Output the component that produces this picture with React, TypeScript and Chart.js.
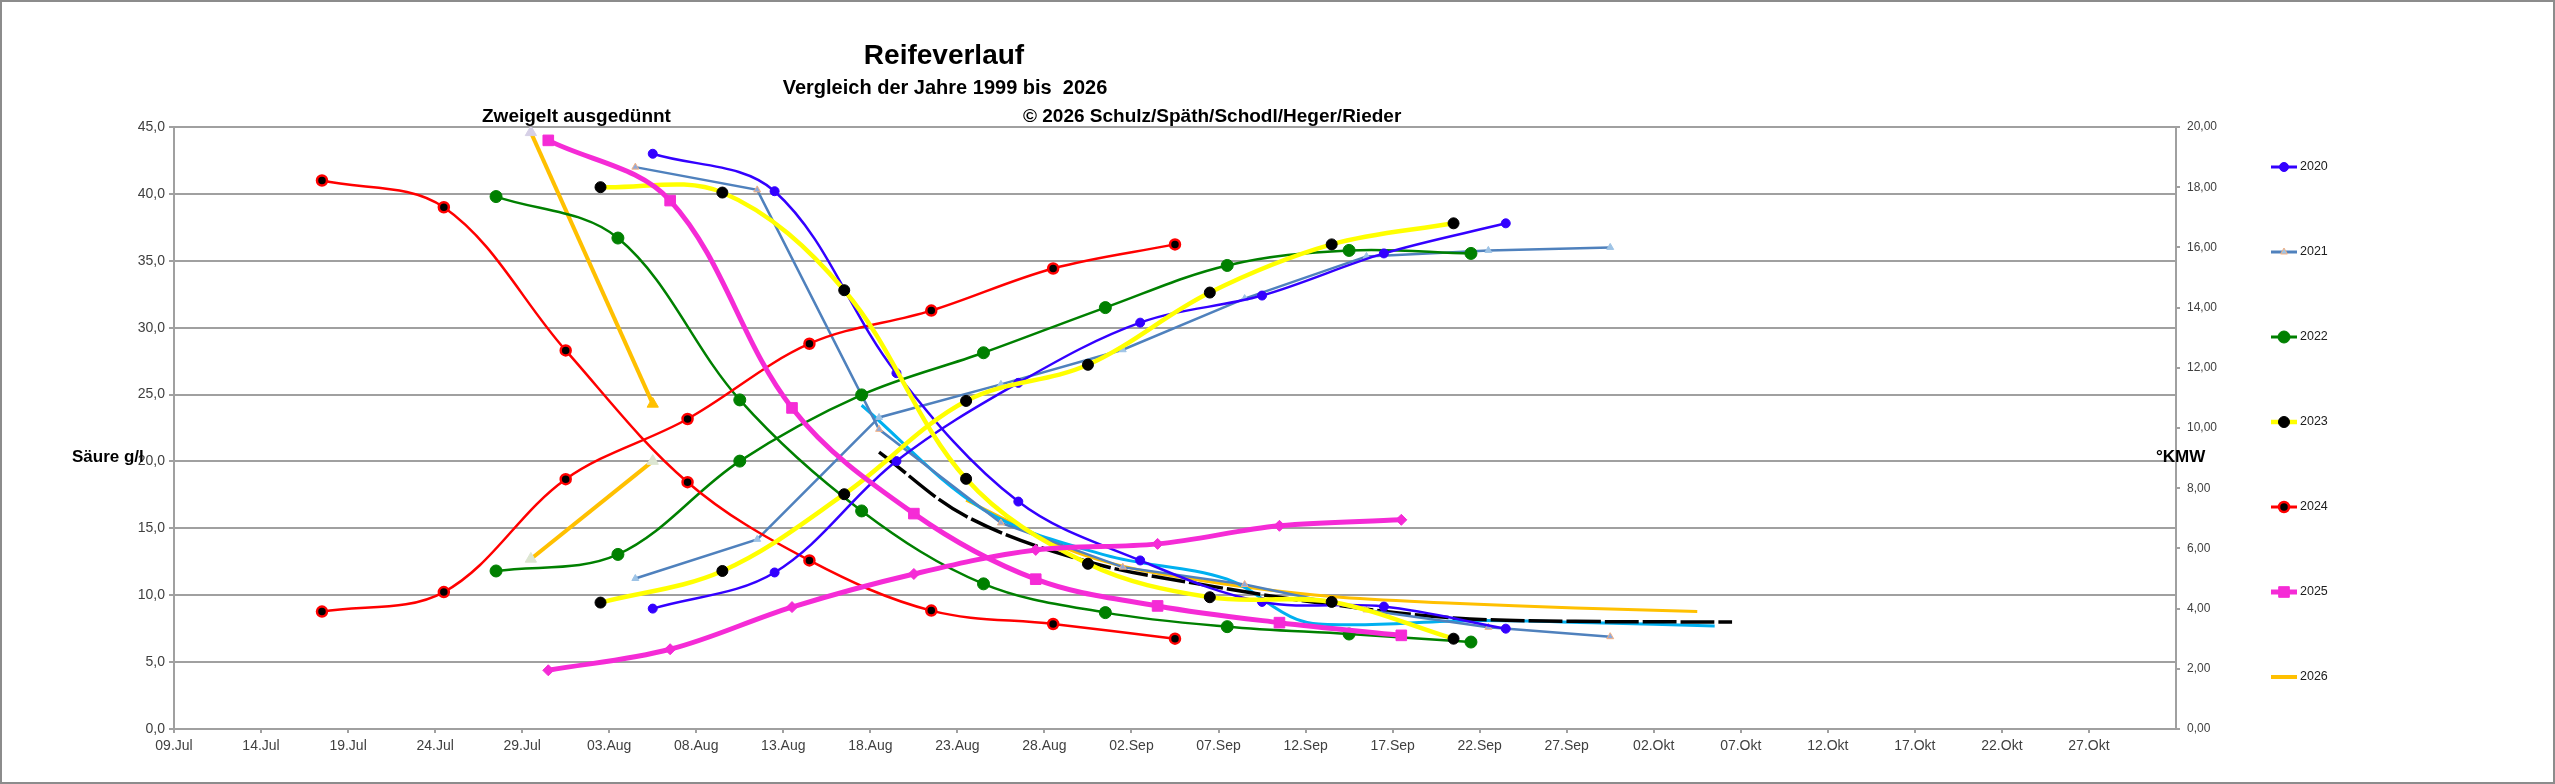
import React, { useEffect, useRef } from "react";
import { Chart, registerables } from "chart.js";

Chart.register(...registerables);

const FONT = '"Liberation Sans", Arial, "DejaVu Sans", sans-serif';

// ---------- texts ----------
const TITLE = "Reifeverlauf";
const SUBTITLE = "Vergleich der Jahre 1999 bis  2026";
const COPYRIGHT = "© 2026 Schulz/Späth/Schodl/Heger/Rieder";
const NOTE = "Zweigelt ausgedünnt";
const LEFT_TITLE = "Säure g/l";
const RIGHT_TITLE = "°KMW";

// ---------- axis tick labels ----------
const xTickLabels = [
  "09.Jul", "14.Jul", "19.Jul", "24.Jul", "29.Jul", "03.Aug", "08.Aug", "13.Aug",
  "18.Aug", "23.Aug", "28.Aug", "02.Sep", "07.Sep", "12.Sep", "17.Sep", "22.Sep",
  "27.Sep", "02.Okt", "07.Okt", "12.Okt", "17.Okt", "22.Okt", "27.Okt",
];

// ---------- data (dates dd.mm, acid g/l, sugar °KMW) ----------
const dates2020 = ["05.08", "12.08", "19.08", "26.08", "02.09", "09.09", "16.09", "23.09"];
const acid2020 = [43.0, 40.2, 26.6, 17.0, 12.6, 9.5, 9.15, 7.5];
const kmw2020 = [4.0, 5.2, 8.9, 11.5, 13.5, 14.4, 15.8, 16.8];

const dates2021 = ["04.08", "11.08", "18.08", "25.08", "01.09", "08.09", "15.09", "22.09", "29.09"];
const acid2021 = [42.0, 40.3, 22.4, 15.4, 12.1, 10.8, 8.9, 7.6, 6.9];
const kmw2021 = [5.0, 6.3, 10.35, 11.45, 12.6, 14.3, 15.7, 15.9, 16.0];

const dates2022 = ["27.07", "03.08", "10.08", "17.08", "24.08", "31.08", "07.09", "14.09", "21.09"];
const acid2022 = [39.8, 36.7, 24.6, 16.3, 10.85, 8.7, 7.65, 7.1, 6.5];
const kmw2022 = [5.25, 5.8, 8.9, 11.1, 12.5, 14.0, 15.4, 15.9, 15.8];

const dates2023 = ["02.08", "09.08", "16.08", "23.08", "30.08", "06.09", "13.09", "20.09"];
const acid2023 = [40.5, 40.1, 32.8, 18.7, 12.35, 9.85, 9.5, 6.75];
const kmw2023 = [4.2, 5.25, 7.8, 10.9, 12.1, 14.5, 16.1, 16.8];

const dates2024 = ["17.07", "24.07", "31.07", "07.08", "14.08", "21.08", "28.08", "04.09"];
const acid2024 = [41.0, 39.0, 28.3, 18.45, 12.6, 8.85, 7.85, 6.75];
const kmw2024 = [3.9, 4.55, 8.3, 10.3, 12.8, 13.9, 15.3, 16.1];

const dates2025 = ["30.07", "06.08", "13.08", "20.08", "27.08", "03.09", "10.09", "17.09"];
const acid2025 = [44.0, 39.5, 24.0, 16.1, 11.2, 9.2, 7.95, 7.0];
const kmw2025 = [1.95, 2.65, 4.05, 5.15, 5.95, 6.15, 6.75, 6.95];

const dates2026 = ["29.07", "05.08"];
const acid2026 = [44.6, 24.3];
const kmw2026 = [5.65, 8.9];

// long-term acid curves (no markers)
const datesMeanA = ["18.08", "23.08", "30.08", "06.09", "13.09", "20.09", "27.09", "06.10"];
const acidMeanA = [20.7, 15.9, 12.5, 10.7, 9.3, 8.3, 8.05, 8.0];

const datesMeanB = ["17.08", "24.08", "31.08", "07.09", "11.09", "14.09", "21.09", "28.09", "05.10"];
const acidMeanB = [24.2, 16.4, 13.0, 11.2, 8.2, 7.8, 8.1, 7.95, 7.7];

const datesMeanC = ["23.08", "30.08", "06.09", "13.09", "20.09", "27.09", "04.10"];
const acidMeanC = [17.1, 12.9, 11.0, 9.9, 9.4, 9.05, 8.78];

const legendYears = ["2020", "2021", "2022", "2023", "2024", "2025", "2026"];

// ---------- helpers ----------
function dayIndex(d: string): number {
  const [dd, mm] = d.split(".").map(Number);
  const monthOffset: Record<number, number> = { 7: -9, 8: 22, 9: 53, 10: 83, 11: 114 };
  return monthOffset[mm] + dd;
}
function toXY(dates: string[], vals: number[]) {
  return dates.map((d, i) => ({ x: dayIndex(d), y: vals[i] }));
}

type Sty = {
  color: string;
  width: number;
  point: string | false;
  r: number;
  fill: string;
  stroke: string;
  pw: number;
  tension: number;
};

const STY: Record<string, Sty> = {
  "2020": { color: "#3300FF", width: 2.5, point: "circle", r: 4.5, fill: "#3300FF", stroke: "#3300FF", pw: 1, tension: 0.35 },
  "2021": { color: "#4F81BD", width: 2.5, point: "triangle", r: 4, fill: "#9DC3E6", stroke: "#F4B183", pw: 1, tension: 0 },
  "2022": { color: "#008000", width: 2.5, point: "circle", r: 6, fill: "#008000", stroke: "#008000", pw: 1, tension: 0.35 },
  "2023": { color: "#FFFF00", width: 4.5, point: "circle", r: 5.5, fill: "#000000", stroke: "#000000", pw: 1, tension: 0.35 },
  "2024": { color: "#FF0000", width: 2.5, point: "circle", r: 5, fill: "#000000", stroke: "#FF0000", pw: 2.5, tension: 0.35 },
  "2025": { color: "#F52BD6", width: 5, point: "rect", r: 7.5, fill: "#F52BD6", stroke: "#F52BD6", pw: 1, tension: 0.35 },
  "2026": { color: "#FFC000", width: 4, point: false, r: 0, fill: "#FFC000", stroke: "#FFC000", pw: 1, tension: 0 },
};

function series(label: string, data: any[], axis: string, s: Sty, extra: any = {}) {
  return {
    label,
    data,
    yAxisID: axis,
    borderColor: s.color,
    backgroundColor: s.color,
    borderWidth: s.width,
    tension: s.tension,
    pointStyle: s.point || "circle",
    pointRadius: s.point ? s.r : 0,
    pointBackgroundColor: s.fill,
    pointBorderColor: s.stroke,
    pointBorderWidth: s.pw,
    pointHoverRadius: s.point ? s.r : 0,
    fill: false,
    ...extra,
  };
}

function drawMarker(ctx: CanvasRenderingContext2D, s: Sty, x: number, y: number) {
  if (!s.point) return;
  ctx.save();
  ctx.fillStyle = s.fill;
  ctx.strokeStyle = s.stroke;
  ctx.lineWidth = s.pw;
  ctx.beginPath();
  if (s.point === "circle") {
    ctx.arc(x, y, s.r, 0, Math.PI * 2);
  } else if (s.point === "triangle") {
    const r = s.r;
    ctx.moveTo(x, y - r);
    ctx.lineTo(x + r * 0.87, y + r * 0.5);
    ctx.lineTo(x - r * 0.87, y + r * 0.5);
    ctx.closePath();
  } else if (s.point === "rect") {
    const h = s.r * Math.SQRT1_2;
    ctx.rect(x - h, y - h, 2 * h, 2 * h);
  }
  ctx.fill();
  ctx.stroke();
  ctx.restore();
}

const overlayPlugin = {
  id: "overlay",
  beforeDraw(chart: any) {
    const { ctx, width, height } = chart;
    ctx.save();
    ctx.fillStyle = "#ffffff";
    ctx.fillRect(0, 0, width, height);
    ctx.restore();
  },
  afterDraw(chart: any) {
    const { ctx, width, height } = chart;
    ctx.save();
    ctx.strokeStyle = "#8c8c8c";
    ctx.lineWidth = 2;
    ctx.strokeRect(1, 1, width - 2, height - 2);

    ctx.fillStyle = "#000000";
    ctx.textBaseline = "alphabetic";
    ctx.textAlign = "center";
    ctx.font = `bold 28px ${FONT}`;
    ctx.fillText(TITLE, 944, 64);
    ctx.font = `bold 20px ${FONT}`;
    ctx.fillText(SUBTITLE, 945, 94);
    ctx.textAlign = "left";
    ctx.font = `bold 19px ${FONT}`;
    ctx.fillText(COPYRIGHT, 1023, 122);
    ctx.fillText(NOTE, 482, 122);
    ctx.font = `bold 17px ${FONT}`;
    ctx.fillText(LEFT_TITLE, 72, 462);
    ctx.fillText(RIGHT_TITLE, 2156, 462);

    // legend
    const lx0 = 2271;
    const lx1 = 2297;
    const ly0 = 167;
    const step = 85;
    legendYears.forEach((yr, i) => {
      const s = STY[yr];
      const y = ly0 + i * step;
      ctx.save();
      ctx.strokeStyle = s.color;
      ctx.lineWidth = Math.max(3, s.width);
      ctx.beginPath();
      ctx.moveTo(lx0, y);
      ctx.lineTo(lx1, y);
      ctx.stroke();
      ctx.restore();
      drawMarker(ctx, s, (lx0 + lx1) / 2, y);
      ctx.fillStyle = "#202020";
      ctx.font = `12.5px ${FONT}`;
      ctx.textAlign = "left";
      ctx.textBaseline = "middle";
      ctx.fillText(yr, lx1 + 3, y);
    });
    ctx.restore();
  },
};

export default function App() {
  const ref = useRef<HTMLCanvasElement | null>(null);

  useEffect(() => {
    if (!ref.current) return;
    const s2026a = STY["2026"];
    const datasets: any[] = [
      series("2025 Säure", toXY(dates2025, acid2025), "yL", STY["2025"]),
      series("2025 KMW", toXY(dates2025, kmw2025), "yR", STY["2025"], { pointStyle: "rectRot", pointRadius: 5.5, pointHoverRadius: 5.5 }),
      series("2023 Säure", toXY(dates2023, acid2023), "yL", STY["2023"]),
      series("2023 KMW", toXY(dates2023, kmw2023), "yR", STY["2023"]),
      series("2020 Säure", toXY(dates2020, acid2020), "yL", STY["2020"]),
      series("2020 KMW", toXY(dates2020, kmw2020), "yR", STY["2020"]),
      series("2024 Säure", toXY(dates2024, acid2024), "yL", STY["2024"]),
      series("2024 KMW", toXY(dates2024, kmw2024), "yR", STY["2024"]),
      series("2022 Säure", toXY(dates2022, acid2022), "yL", STY["2022"]),
      series("2022 KMW", toXY(dates2022, kmw2022), "yR", STY["2022"]),
      series("2021 Säure", toXY(dates2021, acid2021), "yL", STY["2021"], { pointBackgroundColor: "#8EA9DB" }),
      series("2021 KMW", toXY(dates2021, kmw2021), "yR", STY["2021"], { pointBorderColor: "#9DC3E6" }),
      series("2026 Säure", toXY(dates2026, acid2026), "yL", s2026a, {
        pointStyle: "triangle", pointRadius: 6.5, pointHoverRadius: 6.5,
        pointBackgroundColor: ["#D6D0E6", "#FFC000"], pointBorderColor: ["#D6D0E6", "#FFC000"],
      }),
      series("2026 KMW", toXY(dates2026, kmw2026), "yR", s2026a, {
        pointStyle: "triangle", pointRadius: 6.5, pointHoverRadius: 6.5,
        pointBackgroundColor: ["#DDE6D2", "#DDE6D2"], pointBorderColor: ["#DDE6D2", "#DDE6D2"],
      }),
      {
        label: "Mittel A", data: toXY(datesMeanA, acidMeanA), yAxisID: "yL",
        borderColor: "#000000", borderWidth: 3.5, borderDash: [34, 4], tension: 0.35, pointRadius: 0, pointHoverRadius: 0,
      },
      {
        label: "Mittel B", data: toXY(datesMeanB, acidMeanB), yAxisID: "yL",
        borderColor: "#00B0F0", borderWidth: 3, tension: 0.35, pointRadius: 0, pointHoverRadius: 0,
      },
      {
        label: "Mittel C", data: toXY(datesMeanC, acidMeanC), yAxisID: "yL",
        borderColor: "#FFC000", borderWidth: 3, tension: 0.35, pointRadius: 0, pointHoverRadius: 0,
      },
    ];

    const gridColor = "#a0a0a0";
    const tickColor = "#404040";

    const chart = new Chart(ref.current, {
      type: "line",
      data: { datasets },
      plugins: [overlayPlugin],
      options: {
        animation: false,
        responsive: false,
        maintainAspectRatio: false,
        parsing: true as any,
        layout: { padding: { top: 127, left: 0, right: 0, bottom: 0 } },
        plugins: {
          legend: { display: false },
          title: { display: false },
          tooltip: { enabled: false },
        },
        events: [],
        scales: {
          x: {
            type: "linear",
            min: -0.5,
            max: 114.5,
            afterBuildTicks: (scale: any) => {
              scale.ticks = xTickLabels.map((_, i) => ({ value: -0.5 + 5 * i }));
            },
            afterFit: (scale: any) => {
              scale.height = 55;
            },
            grid: { display: true, drawOnChartArea: false, drawTicks: true, tickLength: 4, color: gridColor, lineWidth: 2 },
            border: { display: true, color: gridColor, width: 2 },
            ticks: {
              autoSkip: false,
              maxRotation: 0,
              minRotation: 0,
              padding: 5,
              color: tickColor,
              font: { family: FONT, size: 14 },
              callback: (_v: any, i: number) => xTickLabels[i] ?? "",
            },
          },
          yL: {
            type: "linear",
            position: "left",
            min: 0,
            max: 45,
            afterFit: (scale: any) => {
              scale.width = 174;
            },
            grid: { color: gridColor, lineWidth: 2, drawTicks: true, tickLength: 5 },
            border: { display: true, color: gridColor, width: 2 },
            ticks: {
              stepSize: 5,
              padding: 4,
              color: tickColor,
              font: { family: FONT, size: 14 },
              callback: (v: any) => Number(v).toFixed(1).replace(".", ","),
            },
          },
          yR: {
            type: "linear",
            position: "right",
            min: 0,
            max: 20,
            afterFit: (scale: any) => {
              scale.width = 379;
            },
            grid: { drawOnChartArea: false, drawTicks: true, tickLength: 4, color: gridColor, lineWidth: 2 },
            border: { display: true, color: gridColor, width: 2 },
            ticks: {
              stepSize: 2,
              padding: 7,
              color: tickColor,
              font: { family: FONT, size: 12 },
              callback: (v: any) => Number(v).toFixed(2).replace(".", ","),
            },
          },
        },
      } as any,
    });
    return () => chart.destroy();
  }, []);

  return (
    <div style={{ position: "fixed", left: 0, top: 0, width: 2555, height: 784, background: "#fff" }}>
      <canvas ref={ref} width={2555} height={784} style={{ width: 2555, height: 784, display: "block" }} />
    </div>
  );
}
